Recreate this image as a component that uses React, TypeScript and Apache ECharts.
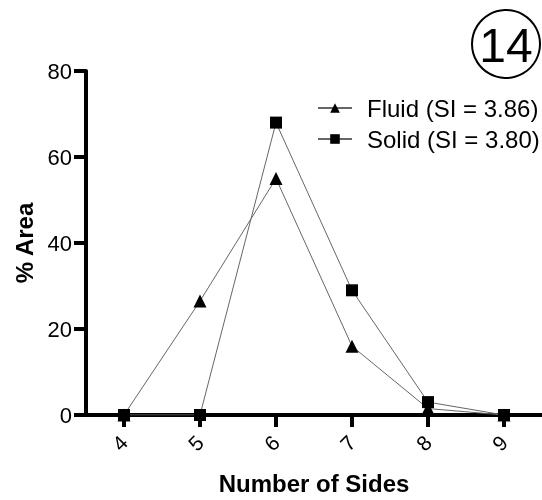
import React, { useEffect, useRef } from "react";
import * as echarts from "echarts";

const categories = [4, 5, 6, 7, 8, 9];
const fluidValues = [0, 26.5, 55, 16, 1.5, 0];
const solidValues = [0, 0, 68, 29, 3, 0];
const fluidName = "Fluid (SI = 3.86)";
const solidName = "Solid (SI = 3.80)";
const badge = "14";

export default function App() {
  const ref = useRef<HTMLDivElement>(null);
  useEffect(() => {
    if (!ref.current) return;
    const chart = echarts.init(ref.current, null, { renderer: "svg" });
    const font = "'Liberation Sans', Arial, Helvetica, sans-serif";
    chart.setOption({
      animation: false,
      textStyle: { fontFamily: font, color: "#000" },
      grid: { left: 86, right: 0, top: 71, bottom: 78, containLabel: false },
      legend: {
        orient: "vertical",
        left: 312,
        top: 91,
        itemWidth: 34,
        itemHeight: 12,
        itemGap: 7,
        textStyle: { fontSize: 24, color: "#000", fontFamily: font, padding: [0, 0, 0, 10] },
        data: [fluidName, solidName],
      },
      xAxis: {
        type: "value",
        min: 3.5,
        max: 9.5,
        name: "Number of Sides",
        nameLocation: "middle",
        nameGap: 56,
        nameTextStyle: { fontSize: 24, fontWeight: "bold", color: "#000", fontFamily: font },
        axisLine: { show: true, onZero: false, lineStyle: { color: "#000", width: 4 } },
        axisTick: { show: true, length: 12, customValues: categories, lineStyle: { color: "#000", width: 4 } },
        axisLabel: { customValues: categories, rotate: 45, fontSize: 21, margin: 24, color: "#000", fontFamily: font },
        splitLine: { show: false },
      },
      yAxis: {
        type: "value",
        min: 0,
        max: 80,
        interval: 20,
        name: "% Area",
        nameLocation: "middle",
        nameGap: 50,
        nameTextStyle: { fontSize: 24, fontWeight: "bold", color: "#000", fontFamily: font },
        axisLine: { show: true, lineStyle: { color: "#000", width: 4 } },
        axisTick: { show: true, length: 12, lineStyle: { color: "#000", width: 4 } },
        axisLabel: { fontSize: 22, margin: 14, color: "#000", fontFamily: font },
        splitLine: { show: false },
      },
      series: [
        {
          name: fluidName,
          type: "line",
          data: categories.map((c, i) => [c, fluidValues[i]]),
          symbol: "triangle",
          symbolSize: 13,
          itemStyle: { color: "#000" },
          lineStyle: { color: "#666", width: 1 },
          z: 3,
        },
        {
          name: solidName,
          type: "line",
          data: categories.map((c, i) => [c, solidValues[i]]),
          symbol: "rect",
          symbolSize: 12,
          itemStyle: { color: "#000" },
          lineStyle: { color: "#666", width: 1 },
          z: 4,
        },
      ],
      graphic: [
        {
          type: "circle",
          shape: { cx: 506, cy: 44, r: 34 },
          style: { fill: "none", stroke: "#000", lineWidth: 2 },
        },
        {
          type: "text",
          x: 506,
          y: 45,
          style: {
            text: badge,
            fontSize: 48,
            fontFamily: font,
            fill: "#000",
            textAlign: "center",
            textVerticalAlign: "middle",
          },
        },
      ],
    });
    return () => chart.dispose();
  }, []);
  return (
    <div
      ref={ref}
      style={{ position: "fixed", left: 0, top: 0, width: 542, height: 500 }}
    />
  );
}
